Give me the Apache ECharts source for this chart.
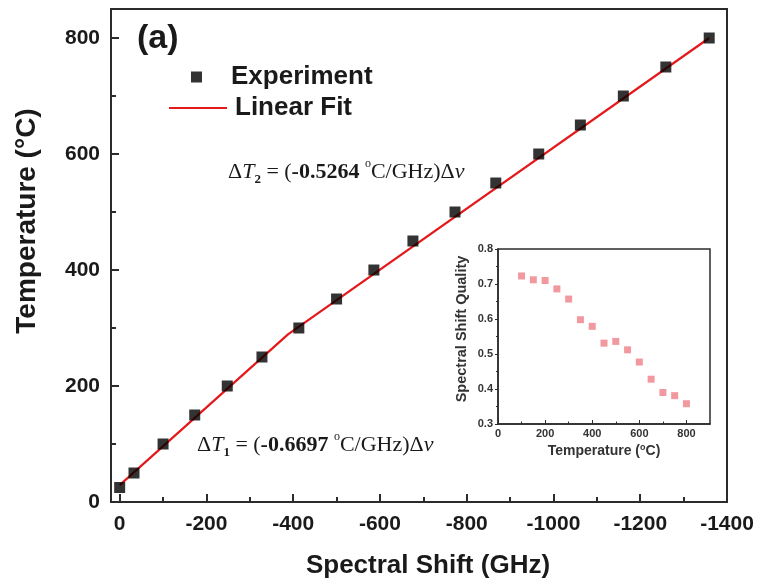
<!DOCTYPE html>
<html><head><meta charset="utf-8">
<script src="https://cdn.jsdelivr.net/npm/echarts@6/dist/echarts.min.js"></script>
<style>html,body{margin:0;padding:0;background:#fff}#c{width:758px;height:583px}</style>
</head><body><div id="c"></div>
<script>
// ---- data ----
const shiftGHz = [0, -33, -100, -173, -248, -328, -413, -500, -586, -676, -773, -867, -966, -1062, -1161, -1259, -1359];
const tempC = [25, 50, 100, 150, 200, 250, 300, 350, 400, 450, 500, 550, 600, 650, 700, 750, 800];
const fitShift = [0, -388, -1359];
const fitTemp = [29, 289, 800];
const insetTemp = [100, 150, 200, 250, 300, 350, 400, 450, 500, 550, 600, 650, 700, 750, 800];
const insetQuality = [0.723, 0.712, 0.710, 0.686, 0.657, 0.598, 0.579, 0.531, 0.536, 0.512, 0.477, 0.428, 0.390, 0.381, 0.358];
const xTicks = [0, -200, -400, -600, -800, -1000, -1200, -1400];
const xMinorTicks = [-100, -300, -500, -700, -900, -1100, -1300];
const yTicks = [0, 200, 400, 600, 800];
const yMinorTicks = [100, 300, 500, 700];
const insetXTicks = [0, 200, 400, 600, 800];
const insetXMinor = [100, 300, 500, 700];
const insetYTicks = [0.3, 0.4, 0.5, 0.6, 0.7, 0.8];
const insetYMinor = [0.35, 0.45, 0.55, 0.65, 0.75];

const SANS = 'Liberation Sans, Arial, sans-serif';
const SERIF = 'Liberation Serif, Times New Roman, serif';
const AX = '#2b2b2b';

const chart = echarts.init(document.getElementById('c'), null, {renderer: 'canvas'});

function pairs(xs, ys) { return xs.map((x, i) => [x, ys[i]]); }

const mainLabel = {fontFamily: SANS, fontWeight: 'bold', fontSize: 21, color: '#1a1a1a', formatter: v => String(v)};
const insetLabel = {fontFamily: SANS, fontWeight: 'bold', fontSize: 11, color: '#333'};

const annRich = {
  n: {fontFamily: SERIF, fontSize: 22, fill: '#1a1a1a', lineHeight: 28},
  i: {fontFamily: SERIF, fontStyle: 'italic', fontSize: 22, fill: '#1a1a1a', lineHeight: 28},
  b: {fontFamily: SERIF, fontWeight: 'bold', fontSize: 22, fill: '#1a1a1a', lineHeight: 28},
  s: {fontFamily: SERIF, fontWeight: 'bold', fontSize: 13, fill: '#1a1a1a', verticalAlign: 'bottom', lineHeight: 14},
  o: {fontFamily: SERIF, fontSize: 12, fill: '#1a1a1a', verticalAlign: 'top', lineHeight: 18}
};

const option = {
  backgroundColor: '#fff',
  animation: false,
  grid: [
    {left: 111, top: 9, width: 616, height: 493, show: true, borderColor: AX, borderWidth: 2, backgroundColor: 'transparent'},
    {left: 498, top: 249, width: 212, height: 175, show: true, borderColor: AX, borderWidth: 1.5, backgroundColor: '#fff', z: 5}
  ],
  xAxis: [
    {gridIndex: 0, type: 'value', position: 'bottom', min: -1400, max: 20, inverse: true, splitLine: {show: false},
     axisLine: {show: true, onZero: false, lineStyle: {color: AX, width: 2}},
     axisTick: {show: true, inside: true, length: 8, customValues: xTicks, lineStyle: {color: AX, width: 2}},
     axisLabel: Object.assign({show: true, margin: 12, customValues: xTicks}, mainLabel)},
    {gridIndex: 0, type: 'value', position: 'bottom', min: -1400, max: 20, inverse: true, splitLine: {show: false},
     axisLine: {show: false, onZero: false},
     axisTick: {show: true, inside: true, length: 5, customValues: xMinorTicks, lineStyle: {color: AX, width: 2}},
     axisLabel: {show: false}},
    {gridIndex: 1, type: 'value', position: 'bottom', min: 0, max: 900, splitLine: {show: false}, z: 6,
     axisLine: {show: true, onZero: false, lineStyle: {color: AX, width: 1.5}},
     axisTick: {show: true, inside: true, length: 4, customValues: insetXTicks, lineStyle: {color: AX}},
     axisLabel: Object.assign({show: true, margin: 4, customValues: insetXTicks}, insetLabel)},
    {gridIndex: 1, type: 'value', position: 'bottom', min: 0, max: 900, splitLine: {show: false}, z: 6,
     axisLine: {show: false, onZero: false},
     axisTick: {show: true, inside: true, length: 2.5, customValues: insetXMinor, lineStyle: {color: AX}},
     axisLabel: {show: false}}
  ],
  yAxis: [
    {gridIndex: 0, type: 'value', position: 'left', min: 0, max: 850, splitLine: {show: false},
     axisLine: {show: true, onZero: false, lineStyle: {color: AX, width: 2}},
     axisTick: {show: true, inside: true, length: 8, customValues: yTicks, lineStyle: {color: AX, width: 2}},
     axisLabel: Object.assign({show: true, margin: 11, customValues: yTicks}, mainLabel)},
    {gridIndex: 0, type: 'value', position: 'left', offset: 0, min: 0, max: 850, splitLine: {show: false},
     axisLine: {show: false, onZero: false},
     axisTick: {show: true, inside: true, length: 5, customValues: yMinorTicks, lineStyle: {color: AX, width: 2}},
     axisLabel: {show: false}},
    {gridIndex: 1, type: 'value', position: 'left', min: 0.3, max: 0.8, splitLine: {show: false}, z: 6,
     axisLine: {show: true, onZero: false, lineStyle: {color: AX, width: 1.5}},
     axisTick: {show: true, inside: false, length: 3, customValues: insetYTicks, lineStyle: {color: AX}},
     axisLabel: Object.assign({show: true, margin: 5, customValues: insetYTicks, formatter: v => Number(v).toFixed(1)}, insetLabel)},
    {gridIndex: 1, type: 'value', position: 'left', offset: 0, min: 0.3, max: 0.8, splitLine: {show: false}, z: 6,
     axisLine: {show: false, onZero: false},
     axisTick: {show: true, inside: false, length: 2, customValues: insetYMinor, lineStyle: {color: AX}},
     axisLabel: {show: false}}
  ],
  legend: [
    {data: [{name: 'Experiment', icon: 'rect'}], left: 186, top: 59, itemWidth: 11, itemHeight: 11, itemGap: 0,
     textStyle: {fontFamily: SANS, fontWeight: 'bold', fontSize: 26, color: '#1a1a1a', padding: [0, 0, 0, 24]}},
    {data: [{name: 'Linear Fit', icon: 'rect'}], left: 164, top: 90, itemWidth: 58, itemHeight: 2, itemGap: 0,
     textStyle: {fontFamily: SANS, fontWeight: 'bold', fontSize: 26, color: '#1a1a1a', padding: [0, 0, 0, 3]}}
  ],
  series: [
    {name: 'Linear Fit', type: 'line', xAxisIndex: 0, yAxisIndex: 0, data: pairs(fitShift, fitTemp),
     symbol: 'none', lineStyle: {color: '#e3191c', width: 2.2}, itemStyle: {color: '#e3191c'}, z: 3},
    {name: 'Experiment', type: 'scatter', xAxisIndex: 0, yAxisIndex: 0, data: pairs(shiftGHz, tempC),
     symbol: 'rect', symbolSize: 11, itemStyle: {color: '#000'}, z: 4},
    {name: 'Quality', type: 'scatter', xAxisIndex: 2, yAxisIndex: 2, data: pairs(insetTemp, insetQuality),
     symbol: 'rect', symbolSize: 7, itemStyle: {color: '#ef7f88'}, z: 7}
  ],
  graphic: [
    {type: 'text', left: 137, top: 22, z: 10,
     style: {text: '(a)', fontFamily: SANS, fontWeight: 'bold', fontSize: 34, fill: '#1a1a1a'}},
    {type: 'text', x: 428, y: 566, z: 10,
     style: {text: 'Spectral Shift (GHz)', fontFamily: SANS, fontWeight: 'bold', fontSize: 26, fill: '#1a1a1a', align: 'center', verticalAlign: 'middle'}},
    {type: 'text', x: 27, y: 221, rotation: Math.PI / 2, z: 10,
     style: {text: 'Temperature (°C)', fontFamily: SANS, fontWeight: 'bold', fontSize: 28, fill: '#1a1a1a', align: 'center', verticalAlign: 'middle'}},
    {type: 'text', x: 462, y: 329, rotation: Math.PI / 2, z: 10,
     style: {text: 'Spectral Shift Quality', fontFamily: SANS, fontWeight: 'bold', fontSize: 14.5, fill: '#333', align: 'center', verticalAlign: 'middle'}},
    {type: 'text', x: 604, y: 451, z: 10,
     style: {text: 'Temperature ({sup|o}C)', fontFamily: SANS, fontWeight: 'bold', fontSize: 14, fill: '#333', align: 'center', verticalAlign: 'middle',
       rich: {sup: {fontFamily: SANS, fontWeight: 'bold', fontSize: 9, fill: '#333', verticalAlign: 'top', lineHeight: 16}}}},
    {type: 'text', x: 228, y: 172, z: 10,
     style: {text: '{n|Δ}{i|T}{s|2}{n| = (}{b|-0.5264}{n| }{o|o}{n|C/GHz)Δ}{i|ν}', align: 'left', verticalAlign: 'middle', rich: annRich}},
    {type: 'text', x: 197, y: 445, z: 10,
     style: {text: '{n|Δ}{i|T}{s|1}{n| = (}{b|-0.6697}{n| }{o|o}{n|C/GHz)Δ}{i|ν}', align: 'left', verticalAlign: 'middle', rich: annRich}}
  ]
};
chart.setOption(option);
</script>
</body></html>
